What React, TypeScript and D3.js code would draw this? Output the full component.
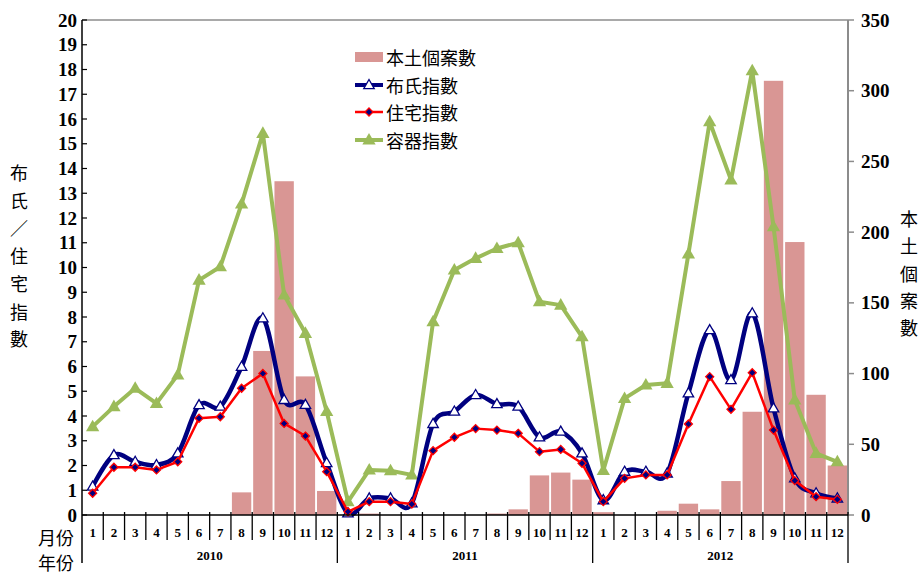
import React from "react";
import * as d3 from "d3";

// Monthly dengue surveillance, 2010–2012
const years = ["2010", "2011", "2012"];
const monthLabels = ["1", "2", "3", "4", "5", "6", "7", "8", "9", "10", "11", "12"];

// 本土個案數 (right axis)
const localCases = [
  0, 0, 0, 0, 0, 0, 0, 16, 116, 236, 98, 17,
  0, 1, 0, 0, 0, 0, 0, 1, 4, 28, 30, 25,
  2, 0, 0, 3, 8, 4, 24, 73, 307, 193, 85, 35,
];

// 布氏指數 (left axis)
const breteauIndex = [
  1.15, 2.42, 2.15, 2.02, 2.49, 4.44, 4.38, 5.99, 7.95, 4.65, 4.45, 2.1,
  0.07, 0.67, 0.67, 0.47, 3.68, 4.18, 4.85, 4.48, 4.38, 3.14, 3.37, 2.49,
  0.6, 1.75, 1.75, 1.68, 4.92, 7.47, 5.45, 8.15, 4.31, 1.48, 0.88, 0.67,
];

// 住宅指數 (left axis)
const houseIndex = [
  0.88, 1.93, 1.93, 1.82, 2.15, 3.91, 3.97, 5.12, 5.72, 3.7, 3.19, 1.75,
  0.13, 0.54, 0.54, 0.44, 2.6, 3.14, 3.49, 3.43, 3.3, 2.56, 2.65, 2.09,
  0.54, 1.48, 1.62, 1.62, 3.68, 5.59, 4.27, 5.75, 3.43, 1.39, 0.74, 0.63,
];

// 容器指數 (left axis)
const containerIndex = [
  3.57, 4.38, 5.12, 4.51, 5.66, 9.49, 10.03, 12.57, 15.42, 8.89, 7.34, 4.18,
  0.54, 1.82, 1.79, 1.62, 7.81, 9.9, 10.37, 10.77, 11.0, 8.62, 8.48, 7.2,
  1.8, 4.71, 5.25, 5.32, 10.55, 15.89, 13.54, 17.95, 11.65, 4.65, 2.49, 2.15,
];

const leftTicks = d3.range(0, 21, 1);
const rightTicks = d3.range(0, 351, 50);
const leftTitle = ["布", "氏", "／", "住", "宅", "指", "數"];
const rightTitle = ["本", "土", "個", "案", "數"];

const W = 923;
const H = 574;
const plot = { left: 82, right: 848, top: 20, bottom: 515 };

const COL_BAR = "#d99694";
const COL_BLUE = "#000080";
const COL_RED = "#ff0000";
const COL_GREEN = "#9bbb59";
const NUM_FONT = "'Liberation Serif', 'DejaVu Serif', serif";
const CJK_FONT = "'Noto Sans CJK TC', 'Noto Sans', sans-serif";

export default function App() {
  const n = localCases.length;
  const idx = d3.range(n);

  const x = d3
    .scaleBand<number>()
    .domain(idx)
    .range([plot.left, plot.right])
    .paddingInner(0.09)
    .paddingOuter(0.045);
  const step = (plot.right - plot.left) / n;
  const cx = (i: number) => plot.left + (i + 0.5) * step;

  const yL = d3.scaleLinear().domain([0, 20]).range([plot.bottom, plot.top]);
  const yR = d3.scaleLinear().domain([0, 350]).range([plot.bottom, plot.top]);

  const smooth = d3
    .line<number>()
    .x((_, i) => cx(i))
    .y((v) => yL(v))
    .curve(d3.curveCardinal.tension(0));
  const straight = d3
    .line<number>()
    .x((_, i) => cx(i))
    .y((v) => yL(v));

  const tri = (px: number, py: number, r: number) =>
    `M${px},${py - r}L${px + r * 0.95},${py + r * 0.65}L${px - r * 0.95},${py + r * 0.65}Z`;
  const diamond = (px: number, py: number, r: number) =>
    `M${px},${py - r}L${px + r},${py}L${px},${py + r}L${px - r},${py}Z`;

  const legendX = 355;
  const legendRows = [57, 85, 112, 140];
  const legendLabels = ["本土個案數", "布氏指數", "住宅指數", "容器指數"];

  return (
    <svg
      width={W}
      height={H}
      style={{ position: "absolute", left: 0, top: 0, background: "#fff" }}
    >
      {/* plot frame: grey top and right edges */}
      <line x1={plot.left} x2={plot.right} y1={plot.top} y2={plot.top} stroke="#8c8c8c" strokeWidth={1.5} />
      <line x1={plot.right} x2={plot.right} y1={plot.top} y2={plot.bottom} stroke="#8c8c8c" strokeWidth={2} />

      {/* case bars */}
      {localCases.map((v, i) => (
        <rect
          key={"b" + i}
          x={x(i)}
          y={yR(v)}
          width={x.bandwidth()}
          height={plot.bottom - yR(v)}
          fill={COL_BAR}
        />
      ))}

      {/* container index */}
      <path d={straight(containerIndex) || ""} fill="none" stroke={COL_GREEN} strokeWidth={4} strokeLinejoin="round" />
      {containerIndex.map((v, i) => (
        <path key={"g" + i} d={tri(cx(i), yL(v), 7)} fill={COL_GREEN} />
      ))}

      {/* Breteau index */}
      <path d={smooth(breteauIndex) || ""} fill="none" stroke={COL_BLUE} strokeWidth={4.5} strokeLinejoin="round" />
      {breteauIndex.map((v, i) => (
        <path key={"t" + i} d={tri(cx(i), yL(v), 5.5)} fill="#fff" stroke={COL_BLUE} strokeWidth={1.3} />
      ))}

      {/* house index */}
      <path d={straight(houseIndex) || ""} fill="none" stroke={COL_RED} strokeWidth={2.5} strokeLinejoin="round" />
      {houseIndex.map((v, i) => (
        <path key={"d" + i} d={diamond(cx(i), yL(v), 4)} fill={COL_BLUE} stroke={COL_RED} strokeWidth={1.3} />
      ))}

      {/* left axis */}
      <line x1={plot.left} x2={plot.left} y1={plot.top} y2={563} stroke="#000" strokeWidth={1.5} />
      {leftTicks.map((t) => (
        <g key={"lt" + t}>
          <line x1={plot.left} x2={plot.left + 5} y1={yL(t)} y2={yL(t)} stroke="#000" strokeWidth={1.2} />
          <text
            x={77}
            y={yL(t)}
            textAnchor="end"
            dominantBaseline="central"
            fontFamily={NUM_FONT}
            fontWeight="bold"
            fontSize={19}
          >
            {t}
          </text>
        </g>
      ))}

      {/* right axis */}
      {rightTicks.map((t) => (
        <g key={"rt" + t}>
          <line x1={plot.right} x2={plot.right + 6} y1={yR(t)} y2={yR(t)} stroke="#8c8c8c" strokeWidth={1.5} />
          <text
            x={861}
            y={yR(t)}
            textAnchor="start"
            dominantBaseline="central"
            fontFamily={NUM_FONT}
            fontWeight="bold"
            fontSize={19}
          >
            {t}
          </text>
        </g>
      ))}

      {/* category axis */}
      <line x1={plot.left} x2={plot.right} y1={plot.bottom} y2={plot.bottom} stroke="#000" strokeWidth={1.5} />
      {d3.range(1, n + 1).map((i) => {
        const xx = plot.left + i * step;
        const yearEdge = i % 12 === 0;
        return (
          <line
            key={"xt" + i}
            x1={xx}
            x2={xx}
            y1={plot.bottom - 3}
            y2={yearEdge ? 563 : 540}
            stroke="#000"
            strokeWidth={1.3}
          />
        );
      })}
      {idx.map((i) => (
        <text
          key={"m" + i}
          x={cx(i)}
          y={532}
          textAnchor="middle"
          dominantBaseline="central"
          fontFamily={NUM_FONT}
          fontWeight="bold"
          fontSize={13}
        >
          {monthLabels[i % 12]}
        </text>
      ))}
      {years.map((yr, k) => (
        <text
          key={"y" + yr}
          x={plot.left + (k * 12 + 6) * step}
          y={555}
          textAnchor="middle"
          dominantBaseline="central"
          fontFamily={NUM_FONT}
          fontWeight="bold"
          fontSize={13}
        >
          {yr}
        </text>
      ))}
      <text x={74} y={537} textAnchor="end" dominantBaseline="central" fontFamily={CJK_FONT} fontSize={18}>
        月份
      </text>
      <text x={74} y={562} textAnchor="end" dominantBaseline="central" fontFamily={CJK_FONT} fontSize={18}>
        年份
      </text>

      {/* axis titles */}
      {leftTitle.map((c, i) => (
        <text
          key={"lc" + i}
          x={19}
          y={172 + i * 27.7}
          textAnchor="middle"
          dominantBaseline="central"
          fontFamily={CJK_FONT}
          fontSize={18}
        >
          {c}
        </text>
      ))}
      {rightTitle.map((c, i) => (
        <text
          key={"rc" + i}
          x={909}
          y={218 + i * 27.3}
          textAnchor="middle"
          dominantBaseline="central"
          fontFamily={CJK_FONT}
          fontSize={18}
        >
          {c}
        </text>
      ))}

      {/* legend */}
      <rect x={legendX} y={legendRows[0] - 5} width={28} height={10} fill={COL_BAR} />
      <line x1={legendX} x2={legendX + 28} y1={legendRows[1]} y2={legendRows[1]} stroke={COL_BLUE} strokeWidth={4} />
      <path d={tri(legendX + 14, legendRows[1], 5.5)} fill="#fff" stroke={COL_BLUE} strokeWidth={1.3} />
      <line x1={legendX} x2={legendX + 28} y1={legendRows[2]} y2={legendRows[2]} stroke={COL_RED} strokeWidth={2.5} />
      <path d={diamond(legendX + 14, legendRows[2], 4)} fill={COL_BLUE} stroke={COL_RED} strokeWidth={1.3} />
      <line x1={legendX} x2={legendX + 28} y1={legendRows[3]} y2={legendRows[3]} stroke={COL_GREEN} strokeWidth={4} />
      <path d={tri(legendX + 14, legendRows[3], 7)} fill={COL_GREEN} />
      {legendLabels.map((l, i) => (
        <text
          key={"lg" + i}
          x={386}
          y={legendRows[i]}
          dominantBaseline="central"
          fontFamily={CJK_FONT}
          fontSize={18}
        >
          {l}
        </text>
      ))}
    </svg>
  );
}
